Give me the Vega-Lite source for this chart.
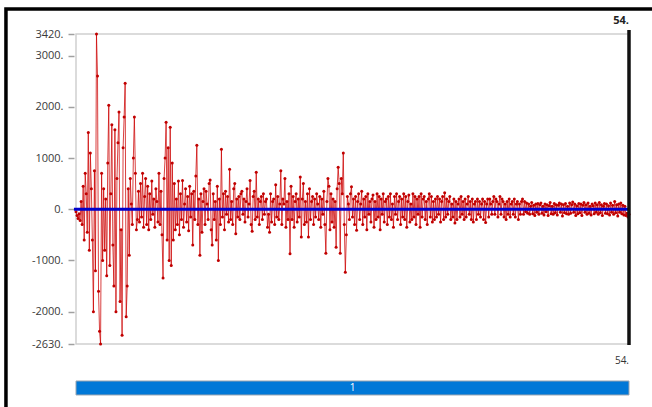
{
"$schema":"https://vega.github.io/schema/vega-lite/v6.json",
"autosize":{"type":"none"},
"width":553,"height":310,
"padding":{"left":76,"top":34,"right":23,"bottom":63},
"background":"white",
"config":{"view":{"stroke":"#cfcfcf","strokeWidth":1.5},"font":"Open Sans"},
"resolve":{"axis":{"x":"independent","y":"independent"}},
"datasets":{
"sig":[
{"t":0,"v":-50},{"t":0.1,"v":-120},{"t":0.2,"v":-180},{"t":0.3,"v":-90},{"t":0.4,"v":-220},{"t":0.5,"v":150},{"t":0.6,"v":-300},{"t":0.7,"v":450},{"t":0.8,"v":-600},{"t":0.9,"v":700},
{"t":1,"v":300},{"t":1.1,"v":-450},{"t":1.2,"v":1500},{"t":1.3,"v":-800},{"t":1.4,"v":1100},{"t":1.5,"v":400},{"t":1.6,"v":-600},{"t":1.7,"v":-2000},{"t":1.8,"v":750},{"t":1.9,"v":-1200},
{"t":2,"v":3420},{"t":2.1,"v":2600},{"t":2.2,"v":-1600},{"t":2.3,"v":-2380},{"t":2.4,"v":-2630},{"t":2.5,"v":700},{"t":2.6,"v":-1000},{"t":2.7,"v":400},{"t":2.8,"v":-800},{"t":2.9,"v":200},
{"t":3,"v":-1300},{"t":3.1,"v":900},{"t":3.2,"v":2030},{"t":3.3,"v":-1100},{"t":3.4,"v":300},{"t":3.5,"v":1650},{"t":3.6,"v":-700},{"t":3.7,"v":-1500},{"t":3.8,"v":1550},{"t":3.9,"v":-2000},
{"t":4,"v":600},{"t":4.1,"v":1300},{"t":4.2,"v":1900},{"t":4.3,"v":-1800},{"t":4.4,"v":-400},{"t":4.5,"v":-2460},{"t":4.6,"v":1200},{"t":4.7,"v":1800},{"t":4.8,"v":2460},{"t":4.9,"v":-2100},
{"t":5,"v":-1500},{"t":5.1,"v":400},{"t":5.2,"v":-900},{"t":5.3,"v":600},{"t":5.4,"v":100},{"t":5.5,"v":-300},{"t":5.6,"v":1000},{"t":5.7,"v":1800},{"t":5.8,"v":700},{"t":5.9,"v":-400},
{"t":6,"v":-200},{"t":6.1,"v":350},{"t":6.2,"v":-250},{"t":6.3,"v":500},{"t":6.4,"v":-150},{"t":6.5,"v":700},{"t":6.6,"v":-350},{"t":6.7,"v":250},{"t":6.8,"v":600},{"t":6.9,"v":-300},
{"t":7,"v":450},{"t":7.1,"v":-400},{"t":7.2,"v":300},{"t":7.3,"v":-200},{"t":7.4,"v":550},{"t":7.5,"v":-100},{"t":7.6,"v":200},{"t":7.7,"v":-350},{"t":7.8,"v":400},{"t":7.9,"v":150},
{"t":8,"v":-250},{"t":8.1,"v":700},{"t":8.2,"v":-300},{"t":8.3,"v":350},{"t":8.4,"v":-500},{"t":8.5,"v":-1340},{"t":8.6,"v":600},{"t":8.7,"v":1000},{"t":8.8,"v":1700},{"t":8.9,"v":-600},
{"t":9,"v":1200},{"t":9.1,"v":-1000},{"t":9.2,"v":1600},{"t":9.3,"v":-1100},{"t":9.4,"v":900},{"t":9.5,"v":-600},{"t":9.6,"v":500},{"t":9.7,"v":-400},{"t":9.8,"v":200},{"t":9.9,"v":-300},
{"t":10,"v":550},{"t":10.1,"v":-500},{"t":10.2,"v":300},{"t":10.3,"v":-200},{"t":10.4,"v":560},{"t":10.5,"v":-350},{"t":10.6,"v":100},{"t":10.7,"v":400},{"t":10.8,"v":-250},{"t":10.9,"v":250},
{"t":11,"v":-420},{"t":11.1,"v":450},{"t":11.2,"v":-150},{"t":11.3,"v":300},{"t":11.4,"v":-700},{"t":11.5,"v":350},{"t":11.6,"v":-200},{"t":11.7,"v":650},{"t":11.8,"v":1250},{"t":11.9,"v":-300},
{"t":12,"v":200},{"t":12.1,"v":-900},{"t":12.2,"v":300},{"t":12.3,"v":-450},{"t":12.4,"v":150},{"t":12.5,"v":400},{"t":12.6,"v":-300},{"t":12.7,"v":350},{"t":12.8,"v":100},{"t":12.9,"v":-200},
{"t":13,"v":500},{"t":13.1,"v":570},{"t":13.2,"v":-400},{"t":13.3,"v":-700},{"t":13.4,"v":300},{"t":13.5,"v":-200},{"t":13.6,"v":150},{"t":13.7,"v":-600},{"t":13.8,"v":450},{"t":13.9,"v":-1000},
{"t":14,"v":200},{"t":14.1,"v":-300},{"t":14.2,"v":1170},{"t":14.3,"v":-150},{"t":14.4,"v":300},{"t":14.5,"v":-400},{"t":14.6,"v":350},{"t":14.7,"v":-100},{"t":14.8,"v":250},{"t":14.9,"v":-250},
{"t":15,"v":780},{"t":15.1,"v":-200},{"t":15.2,"v":150},{"t":15.3,"v":-300},{"t":15.4,"v":400},{"t":15.5,"v":500},{"t":15.6,"v":-480},{"t":15.7,"v":200},{"t":15.8,"v":-150},{"t":15.9,"v":250},
{"t":16,"v":-200},{"t":16.1,"v":300},{"t":16.2,"v":350},{"t":16.3,"v":-100},{"t":16.4,"v":200},{"t":16.5,"v":-250},{"t":16.6,"v":150},{"t":16.7,"v":400},{"t":16.8,"v":-150},{"t":16.9,"v":100},
{"t":17,"v":560},{"t":17.1,"v":-300},{"t":17.2,"v":-430},{"t":17.3,"v":250},{"t":17.4,"v":350},{"t":17.5,"v":-200},{"t":17.6,"v":720},{"t":17.7,"v":-150},{"t":17.8,"v":200},{"t":17.9,"v":-300},
{"t":18,"v":150},{"t":18.1,"v":250},{"t":18.2,"v":-200},{"t":18.3,"v":300},{"t":18.4,"v":-100},{"t":18.5,"v":150},{"t":18.6,"v":200},{"t":18.7,"v":-350},{"t":18.8,"v":-100},{"t":18.9,"v":-450},
{"t":19,"v":300},{"t":19.1,"v":-250},{"t":19.2,"v":150},{"t":19.3,"v":200},{"t":19.4,"v":-300},{"t":19.5,"v":480},{"t":19.6,"v":-150},{"t":19.7,"v":250},{"t":19.8,"v":-200},{"t":19.9,"v":100},
{"t":20,"v":750},{"t":20.1,"v":-300},{"t":20.2,"v":200},{"t":20.3,"v":100},{"t":20.4,"v":600},{"t":20.5,"v":-350},{"t":20.6,"v":150},{"t":20.7,"v":-200},{"t":20.8,"v":300},{"t":20.9,"v":-870},
{"t":21,"v":450},{"t":21.1,"v":-200},{"t":21.2,"v":250},{"t":21.3,"v":-350},{"t":21.4,"v":150},{"t":21.5,"v":300},{"t":21.6,"v":-250},{"t":21.7,"v":200},{"t":21.8,"v":-150},{"t":21.9,"v":630},
{"t":22,"v":-540},{"t":22.1,"v":200},{"t":22.2,"v":500},{"t":22.3,"v":-300},{"t":22.4,"v":150},{"t":22.5,"v":-250},{"t":22.6,"v":300},{"t":22.7,"v":-540},{"t":22.8,"v":400},{"t":22.9,"v":-200},
{"t":23,"v":150},{"t":23.1,"v":250},{"t":23.2,"v":-300},{"t":23.3,"v":200},{"t":23.4,"v":-150},{"t":23.5,"v":300},{"t":23.6,"v":100},{"t":23.7,"v":-200},{"t":23.8,"v":250},{"t":23.9,"v":-350},
{"t":24,"v":200},{"t":24.1,"v":-100},{"t":24.2,"v":350},{"t":24.3,"v":-300},{"t":24.4,"v":-860},{"t":24.5,"v":150},{"t":24.6,"v":600},{"t":24.7,"v":450},{"t":24.8,"v":-400},{"t":24.9,"v":300},
{"t":25,"v":-250},{"t":25.1,"v":200},{"t":25.2,"v":-350},{"t":25.3,"v":150},{"t":25.4,"v":-740},{"t":25.5,"v":400},{"t":25.6,"v":820},{"t":25.7,"v":500},{"t":25.8,"v":-860},{"t":25.9,"v":600},
{"t":26,"v":300},{"t":26.1,"v":1100},{"t":26.2,"v":-300},{"t":26.3,"v":-1230},{"t":26.4,"v":-500},{"t":26.5,"v":250},{"t":26.6,"v":100},{"t":26.7,"v":-200},{"t":26.8,"v":300},{"t":26.9,"v":440},
{"t":27,"v":-150},{"t":27.1,"v":200},{"t":27.2,"v":-300},{"t":27.3,"v":250},{"t":27.4,"v":-410},{"t":27.5,"v":150},{"t":27.6,"v":300},{"t":27.7,"v":-200},{"t":27.8,"v":100},{"t":27.9,"v":350},
{"t":28,"v":-300},{"t":28.1,"v":200},{"t":28.2,"v":-150},{"t":28.3,"v":250},{"t":28.4,"v":-400},{"t":28.5,"v":300},{"t":28.6,"v":-100},{"t":28.7,"v":150},{"t":28.8,"v":-250},{"t":28.9,"v":200},
{"t":29,"v":280},{"t":29.1,"v":-350},{"t":29.2,"v":150},{"t":29.3,"v":-200},{"t":29.4,"v":300},{"t":29.5,"v":-150},{"t":29.6,"v":250},{"t":29.7,"v":-400},{"t":29.8,"v":200},{"t":29.9,"v":-100},
{"t":30,"v":300},{"t":30.1,"v":-250},{"t":30.2,"v":150},{"t":30.3,"v":200},{"t":30.4,"v":-300},{"t":30.5,"v":250},{"t":30.6,"v":-150},{"t":30.7,"v":300},{"t":30.8,"v":-200},{"t":30.9,"v":100},
{"t":31,"v":-350},{"t":31.1,"v":250},{"t":31.2,"v":-100},{"t":31.3,"v":300},{"t":31.4,"v":-200},{"t":31.5,"v":150},{"t":31.6,"v":250},{"t":31.7,"v":-300},{"t":31.8,"v":200},{"t":31.9,"v":-150},
{"t":32,"v":300},{"t":32.1,"v":-200},{"t":32.2,"v":250},{"t":32.3,"v":-350},{"t":32.4,"v":150},{"t":32.5,"v":280},{"t":32.6,"v":-250},{"t":32.7,"v":100},{"t":32.8,"v":-200},{"t":32.9,"v":300},
{"t":33,"v":-150},{"t":33.1,"v":250},{"t":33.2,"v":-300},{"t":33.3,"v":200},{"t":33.4,"v":-100},{"t":33.5,"v":250},{"t":33.6,"v":-350},{"t":33.7,"v":300},{"t":33.8,"v":-150},{"t":33.9,"v":200},
{"t":34,"v":250},{"t":34.1,"v":-200},{"t":34.2,"v":150},{"t":34.3,"v":-300},{"t":34.4,"v":200},{"t":34.5,"v":300},{"t":34.6,"v":-150},{"t":34.7,"v":250},{"t":34.8,"v":-250},{"t":34.9,"v":150},
{"t":35,"v":-200},{"t":35.1,"v":200},{"t":35.2,"v":-150},{"t":35.3,"v":250},{"t":35.4,"v":-100},{"t":35.5,"v":200},{"t":35.6,"v":-250},{"t":35.7,"v":150},{"t":35.8,"v":250},{"t":35.9,"v":-200},
{"t":36,"v":320},{"t":36.1,"v":-150},{"t":36.2,"v":200},{"t":36.3,"v":-100},{"t":36.4,"v":150},{"t":36.5,"v":250},{"t":36.6,"v":-200},{"t":36.7,"v":100},{"t":36.8,"v":-150},{"t":36.9,"v":200},
{"t":37,"v":-270},{"t":37.1,"v":150},{"t":37.2,"v":-200},{"t":37.3,"v":100},{"t":37.4,"v":200},{"t":37.5,"v":-150},{"t":37.6,"v":250},{"t":37.7,"v":-100},{"t":37.8,"v":150},{"t":37.9,"v":-200},
{"t":38,"v":200},{"t":38.1,"v":-150},{"t":38.2,"v":100},{"t":38.3,"v":250},{"t":38.4,"v":-100},{"t":38.5,"v":150},{"t":38.6,"v":-200},{"t":38.7,"v":200},{"t":38.8,"v":-250},{"t":38.9,"v":100},
{"t":39,"v":150},{"t":39.1,"v":-200},{"t":39.2,"v":200},{"t":39.3,"v":-100},{"t":39.4,"v":150},{"t":39.5,"v":-150},{"t":39.6,"v":100},{"t":39.7,"v":200},{"t":39.8,"v":-200},{"t":39.9,"v":150},
{"t":40,"v":-260},{"t":40.1,"v":100},{"t":40.2,"v":200},{"t":40.3,"v":-150},{"t":40.4,"v":200},{"t":40.5,"v":100},{"t":40.6,"v":-100},{"t":40.7,"v":150},{"t":40.8,"v":250},{"t":40.9,"v":-100},
{"t":41,"v":200},{"t":41.1,"v":150},{"t":41.2,"v":-150},{"t":41.3,"v":100},{"t":41.4,"v":250},{"t":41.5,"v":-100},{"t":41.6,"v":200},{"t":41.7,"v":150},{"t":41.8,"v":-150},{"t":41.9,"v":100},
{"t":42,"v":-200},{"t":42.1,"v":150},{"t":42.2,"v":-100},{"t":42.3,"v":200},{"t":42.4,"v":-150},{"t":42.5,"v":100},{"t":42.6,"v":150},{"t":42.7,"v":-100},{"t":42.8,"v":200},{"t":42.9,"v":-150},
{"t":43,"v":100},{"t":43.1,"v":150},{"t":43.2,"v":-200},{"t":43.3,"v":100},{"t":43.4,"v":-100},{"t":43.5,"v":150},{"t":43.6,"v":200},{"t":43.7,"v":-100},{"t":43.8,"v":150},{"t":43.9,"v":-50},
{"t":44,"v":120},{"t":44.1,"v":-80},{"t":44.2,"v":100},{"t":44.3,"v":-100},{"t":44.4,"v":60},{"t":44.5,"v":130},{"t":44.6,"v":-90},{"t":44.7,"v":80},{"t":44.8,"v":-120},{"t":44.9,"v":100},
{"t":45,"v":-60},{"t":45.1,"v":110},{"t":45.2,"v":-100},{"t":45.3,"v":90},{"t":45.4,"v":120},{"t":45.5,"v":-80},{"t":45.6,"v":60},{"t":45.7,"v":-110},{"t":45.8,"v":100},{"t":45.9,"v":-50},
{"t":46,"v":90},{"t":46.1,"v":-120},{"t":46.2,"v":70},{"t":46.3,"v":130},{"t":46.4,"v":-90},{"t":46.5,"v":60},{"t":46.6,"v":-100},{"t":46.7,"v":110},{"t":46.8,"v":-70},{"t":46.9,"v":90},
{"t":47,"v":-110},{"t":47.1,"v":80},{"t":47.2,"v":120},{"t":47.3,"v":-60},{"t":47.4,"v":100},{"t":47.5,"v":-130},{"t":47.6,"v":90},{"t":47.7,"v":-70},{"t":47.8,"v":110},{"t":47.9,"v":-90},
{"t":48,"v":60},{"t":48.1,"v":-100},{"t":48.2,"v":120},{"t":48.3,"v":-80},{"t":48.4,"v":90},{"t":48.5,"v":140},{"t":48.6,"v":-60},{"t":48.7,"v":100},{"t":48.8,"v":-120},{"t":48.9,"v":70},
{"t":49,"v":-90},{"t":49.1,"v":110},{"t":49.2,"v":-70},{"t":49.3,"v":100},{"t":49.4,"v":-120},{"t":49.5,"v":80},{"t":49.6,"v":130},{"t":49.7,"v":-60},{"t":49.8,"v":90},{"t":49.9,"v":-100},
{"t":50,"v":120},{"t":50.1,"v":-80},{"t":50.2,"v":60},{"t":50.3,"v":-110},{"t":50.4,"v":100},{"t":50.5,"v":70},{"t":50.6,"v":-90},{"t":50.7,"v":120},{"t":50.8,"v":-60},{"t":50.9,"v":90},
{"t":51,"v":-100},{"t":51.1,"v":130},{"t":51.2,"v":-70},{"t":51.3,"v":90},{"t":51.4,"v":-120},{"t":51.5,"v":60},{"t":51.6,"v":110},{"t":51.7,"v":-80},{"t":51.8,"v":100},{"t":51.9,"v":-90},
{"t":52,"v":70},{"t":52.1,"v":-110},{"t":52.2,"v":120},{"t":52.3,"v":-60},{"t":52.4,"v":80},{"t":52.5,"v":-100},{"t":52.6,"v":150},{"t":52.7,"v":-70},{"t":52.8,"v":90},{"t":52.9,"v":-130},
{"t":53,"v":100},{"t":53.1,"v":-60},{"t":53.2,"v":120},{"t":53.3,"v":-90},{"t":53.4,"v":80},{"t":53.5,"v":-110},{"t":53.6,"v":60},{"t":53.7,"v":-120},{"t":53.8,"v":-80},{"t":53.9,"v":-150},
{"t":54,"v":-100}
],
"marker":[{"t":54,"label":"54."}],
"band":[{"start":0,"end":54,"label":"1"}]
},
"layer":[
{"data":{"name":"sig"},
 "mark":{"type":"line","color":"#cc0000","strokeWidth":1,"opacity":0.75},
 "encoding":{
  "x":{"field":"t","type":"quantitative","scale":{"domain":[0,54],"nice":false,"zero":false},"axis":null},
  "y":{"field":"v","type":"quantitative","scale":{"domain":[-2630,3420],"nice":false,"zero":false},
   "axis":{"orient":"left","title":null,"values":[3420,3000,2000,1000,0,-1000,-2000,-2630],"labelExpr":"datum.value + '.'","grid":false,"domain":false,"offset":2,"tickSize":6,"tickColor":"#a0a0a0","tickWidth":1.5,"labelPadding":5,"labelFontSize":11,"labelColor":"#3a3a3a","labelFont":"Open Sans"}}}},
{"data":{"name":"sig"},
 "mark":{"type":"point","filled":true,"color":"#c00000","size":9,"opacity":1},
 "encoding":{"x":{"field":"t","type":"quantitative","axis":null},"y":{"field":"v","type":"quantitative","axis":null}}},
{"data":{"values":[{}]},
 "mark":{"type":"rect","filled":false,"stroke":"#000000","strokeWidth":3.5,"clip":false},
 "encoding":{"x":{"datum":-6.84,"type":"quantitative","axis":null},"x2":{"datum":57.5},"y":{"datum":3908,"type":"quantitative","axis":null},"y2":{"datum":-4200}}},
{"data":{"values":[{}]},
 "mark":{"type":"rule","color":"#0000cc","strokeWidth":3,"clip":false},
 "encoding":{"x":{"datum":-0.2,"type":"quantitative","axis":null},"x2":{"datum":54.1},"y":{"datum":0,"type":"quantitative","axis":null}}},
{"data":{"name":"marker"},
 "mark":{"type":"rule","color":"#111111","strokeWidth":3.5,"clip":false},
 "encoding":{"x":{"field":"t","type":"quantitative","axis":null},"y":{"datum":3500,"type":"quantitative","axis":null},"y2":{"datum":-2650}}},
{"data":{"name":"marker"},
 "mark":{"type":"text","align":"right","baseline":"middle","fontWeight":"bold","fontSize":11,"color":"#222222","clip":false},
 "encoding":{"x":{"field":"t","type":"quantitative","axis":null},"y":{"datum":3680,"type":"quantitative","axis":null},"text":{"field":"label","type":"nominal"}}},
{"data":{"name":"marker"},
 "mark":{"type":"text","align":"right","baseline":"middle","fontSize":10,"color":"#333333","clip":false},
 "encoding":{"x":{"field":"t","type":"quantitative","axis":null},"y":{"datum":-2965,"type":"quantitative","axis":null},"text":{"field":"label","type":"nominal"}}},
{"data":{"name":"band"},
 "mark":{"type":"rect","color":"#0078d7","stroke":"#9aa5b0","strokeWidth":1,"clip":false},
 "encoding":{"x":{"field":"start","type":"quantitative","axis":null},"x2":{"field":"end"},"y":{"datum":-3352,"type":"quantitative","axis":null},"y2":{"datum":-3625}}},
{"data":{"name":"band"},
 "mark":{"type":"text","align":"center","baseline":"middle","fontSize":10,"color":"#ffffff","clip":false},
 "encoding":{"x":{"datum":27,"type":"quantitative","axis":null},"y":{"datum":-3489,"type":"quantitative","axis":null},"text":{"field":"label","type":"nominal"}}}
]
}
